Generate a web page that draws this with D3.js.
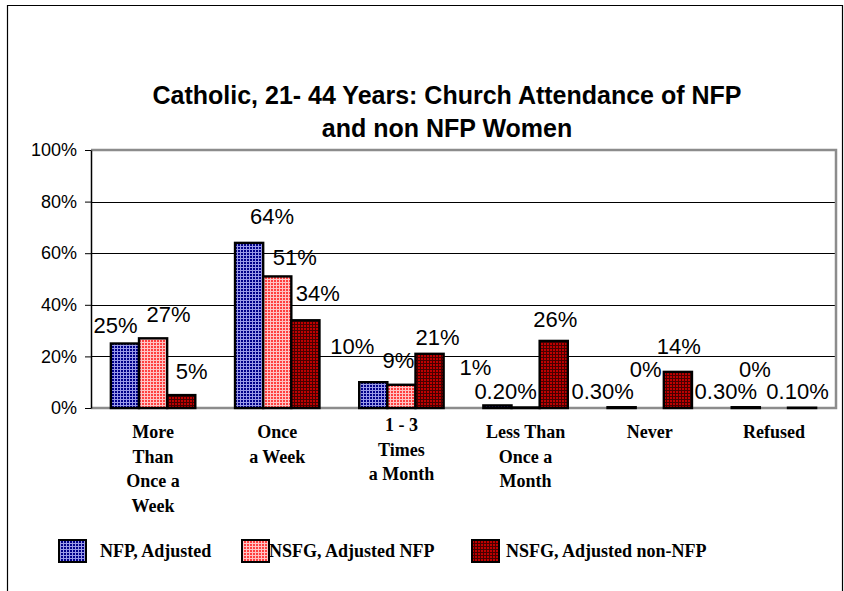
<!DOCTYPE html>
<html>
<head>
<meta charset="utf-8">
<script src="https://cdn.jsdelivr.net/npm/d3@7"></script>
<style>
  body { margin: 0; background: #fff; }
  svg { display: block; }
</style>
</head>
<body>
<div id="chart"></div>
<script>
// data
var categories = ["More Than Once a Week", "Once a Week", "1 - 3 Times a Month",
                  "Less Than Once a Month", "Never", "Refused"];
var catLines = [["More", "Than", "Once a", "Week"], ["Once", "a Week"], ["1 - 3", "Times", "a Month"],
                ["Less Than", "Once a", "Month"], ["Never"], ["Refused"]];
var series = ["NFP, Adjusted", "NSFG, Adjusted NFP", "NSFG, Adjusted non-NFP"];
var nfpAdjusted   = [25, 64, 10, 1, 0.3, 0.3];
var nsfgAdjNfp    = [27, 51, 9, 0.2, 0, 0];
var nsfgAdjNonNfp = [5, 34, 21, 26, 14, 0.1];
var yTicks = [0, 20, 40, 60, 80, 100];

// label nudges [dx, gap above bar top], same order as series x categories
var labelNudge = [
  [[-9.5, 11], [15.5, 16.5], [10.5, 16]],
  [[23, 19], [17.5, 11], [12.5, 19]],
  [[-21, 28], [-3, 17], [8, 9]],
  [[-22, 30], [-20, 8.5], [1.5, 14]],
  [[-19, 8], [-4, 31], [1, 17.5]],
  [[-20, 8], [-19, 31.5], [-4.5, 8.7]]
];
var catShift = [0, 0, -7, 0, 0, 0];

var W = 844, H = 591;
var margin = {top: 150, right: 8, bottom: 183, left: 91};

var svg = d3.select("#chart").append("svg")
    .attr("width", W).attr("height", H);

var values = [nfpAdjusted, nsfgAdjNfp, nsfgAdjNonNfp];

// patterns
var defs = svg.append("defs");
var pats = [
  {id: "pBlue", bg: "#000088", grid: "#9a9ae8"},
  {id: "pPink", bg: "#ff4040", grid: "#ffc4c4"},
  {id: "pRed",  bg: "#c00000", grid: "#480000"}
];
pats.forEach(function(p) {
  var pt = defs.append("pattern").attr("id", p.id)
    .attr("patternUnits", "userSpaceOnUse").attr("width", 3).attr("height", 3);
  pt.append("rect").attr("width", 3).attr("height", 3).attr("fill", p.bg);
  pt.append("path").attr("d", "M0,0.5H3M0.5,0V3")
    .attr("stroke", p.grid).attr("stroke-width", 1);
});

// outer frame
svg.append("path")
  .attr("d", "M7.5," + H + "V5.5H842.5V" + H)
  .attr("fill", "none").attr("stroke", "#000").attr("stroke-width", 1.2);

// title
var title = svg.append("text")
  .attr("text-anchor", "middle")
  .style("font-family", "'Liberation Sans', Arial, sans-serif")
  .style("font-weight", "bold").style("font-size", "25px");
title.append("tspan").attr("x", 447).attr("y", 104).text("Catholic, 21- 44 Years: Church Attendance of NFP");
title.append("tspan").attr("x", 447).attr("y", 137).text("and non NFP Women");

var x0 = d3.scaleBand()
  .domain(categories)
  .range([margin.left, W - margin.right])
  .paddingInner(0.32).paddingOuter(0.16);

var x1 = d3.scaleBand()
  .domain(series)
  .range([0, x0.bandwidth()]);

var y = d3.scaleLinear()
  .domain([0, 100])
  .range([H - margin.bottom, margin.top]);

var left = margin.left, right = W - margin.right;

// gridlines
svg.append("g").selectAll("line")
  .data(yTicks.filter(function(d) { return d > 0 && d < 100; }))
  .enter().append("line")
    .attr("x1", left).attr("x2", right)
    .attr("y1", function(d) { return Math.round(y(d)) + 0.5; })
    .attr("y2", function(d) { return Math.round(y(d)) + 0.5; })
    .attr("stroke", "#000").attr("stroke-width", 1);

// gray plot border (top, right, bottom)
svg.append("path")
  .attr("d", "M" + left + "," + y(100) + "H" + right + "V" + y(0) + "H" + left)
  .attr("fill", "none").attr("stroke", "#8c8c8c").attr("stroke-width", 2.5);

// bars
var bars = svg.append("g");
categories.forEach(function(c, i) {
  series.forEach(function(s, j) {
    var v = values[j][i];
    if (v <= 0) return;
    bars.append("rect")
      .attr("x", x0(c) + x1(s))
      .attr("y", y(v))
      .attr("width", x1.bandwidth())
      .attr("height", y(0) - y(v))
      .attr("fill", "url(#" + pats[j].id + ")")
      .attr("stroke", "#000").attr("stroke-width", 2.4);
  });
});

// y axis
var yAxis = svg.append("g")
  .attr("transform", "translate(" + left + ",0)")
  .call(d3.axisLeft(y).tickValues(yTicks).tickFormat(function(d) { return d + "%"; })
    .tickSize(6).tickSizeOuter(0).tickPadding(8));
yAxis.select(".domain").attr("stroke", "#000").attr("stroke-width", 1.5);
yAxis.selectAll(".tick line").attr("stroke", "#000");
yAxis.selectAll("text")
  .style("font-family", "'Liberation Sans', Arial, sans-serif")
  .style("font-size", "18px").attr("fill", "#000");

// data labels
function fmt(v) {
  return (v > 0 && v < 1) ? v.toFixed(2) + "%" : v + "%";
}
var labels = svg.append("g")
  .style("font-family", "'Liberation Sans', Arial, sans-serif")
  .style("font-size", "22px").attr("text-anchor", "middle");
categories.forEach(function(c, i) {
  series.forEach(function(s, j) {
    var v = values[j][i];
    var n = labelNudge[i][j];
    labels.append("text")
      .attr("x", x0(c) + x1(s) + x1.bandwidth() / 2 + n[0])
      .attr("y", y(v) - n[1])
      .text(fmt(v));
  });
});

// category labels
var cats = svg.append("g")
  .style("font-family", "'Liberation Serif', 'Times New Roman', serif")
  .style("font-weight", "bold").style("font-size", "18px")
  .attr("text-anchor", "middle");
categories.forEach(function(c, i) {
  var t = cats.append("text");
  catLines[i].forEach(function(line, k) {
    t.append("tspan")
      .attr("x", x0(c) + x0.bandwidth() / 2)
      .attr("y", y(0) + 30 + catShift[i] + k * 24.5)
      .text(line);
  });
});

// legend
var legendX = [59, 242, 472], legendGap = [14, 0, 7];
var legend = svg.append("g");
series.forEach(function(s, j) {
  legend.append("rect")
    .attr("x", legendX[j]).attr("y", 540)
    .attr("width", 27).attr("height", 22)
    .attr("fill", "url(#" + pats[j].id + ")")
    .attr("stroke", "#000").attr("stroke-width", 2);
  legend.append("text")
    .attr("x", legendX[j] + 27 + legendGap[j]).attr("y", 557)
    .style("font-family", "'Liberation Serif', 'Times New Roman', serif")
    .style("font-weight", "bold").style("font-size", "18px")
    .text(s);
});
</script>
</body>
</html>
